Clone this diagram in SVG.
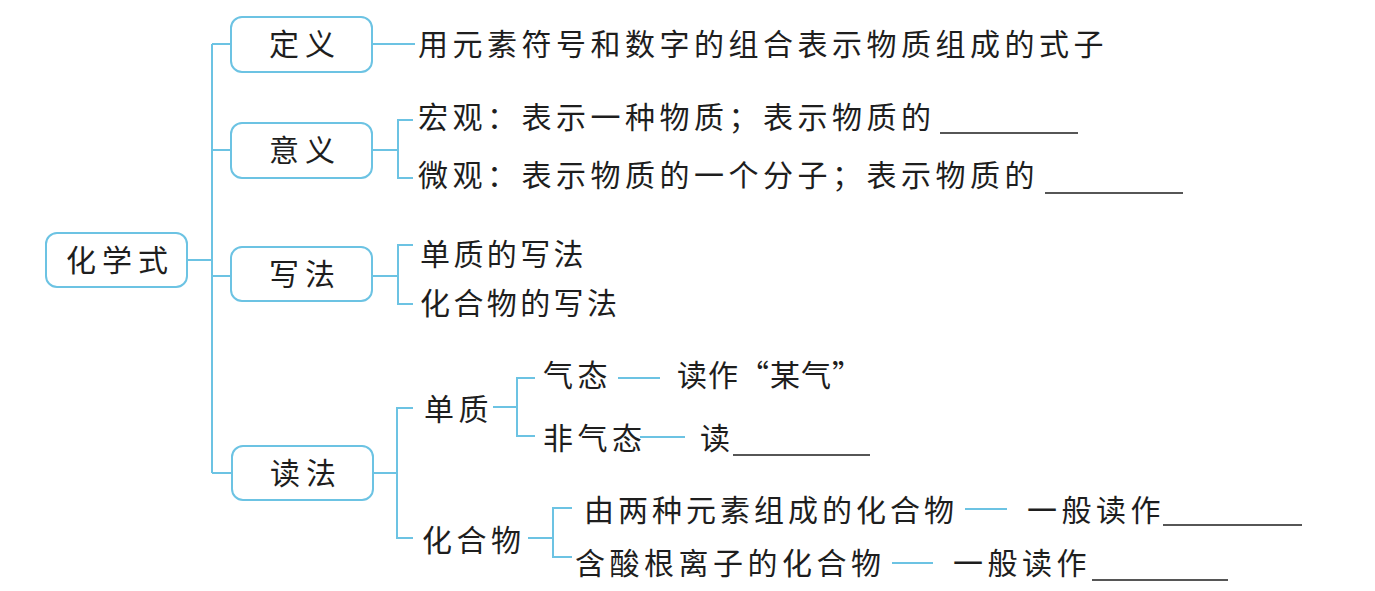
<svg xmlns="http://www.w3.org/2000/svg" width="1375" height="591" viewBox="0 0 1375 591">
<style>
.box{fill:#ffffff;stroke:#6cc3e3;stroke-width:2}
.c line,.c path{stroke:#6cc3e3;stroke-width:2;fill:none}
.t{font-family:"Noto Sans CJK SC","Noto Sans CJK TC",sans-serif;font-size:30px;fill:#1e1e1e;letter-spacing:4.5px}
.bt{font-family:"Noto Sans CJK SC","Noto Sans CJK TC",sans-serif;font-size:30px;fill:#1e1e1e;letter-spacing:6px;text-anchor:middle}
.u{stroke:#1e1e1e;stroke-width:1.6}
</style>
<rect width="1375" height="591" fill="#ffffff"/>
<g id="connectors" class="c">
<line x1="187" y1="260" x2="212" y2="260"/>
<line x1="212" y1="44" x2="212" y2="473"/>
<line x1="212" y1="44" x2="231" y2="44"/>
<line x1="212" y1="150" x2="231" y2="150"/>
<line x1="212" y1="276" x2="231" y2="276"/>
<line x1="212" y1="473" x2="232" y2="473"/>
<line x1="372" y1="44" x2="415" y2="44"/>
<line x1="372" y1="150" x2="398" y2="150"/>
<path d="M413 120H398V178H413"/>
<line x1="372" y1="276" x2="398" y2="276"/>
<path d="M413 245H398V304H413"/>
<line x1="373" y1="473" x2="397" y2="473"/>
<path d="M413 408H397V538H413"/>
<line x1="493" y1="407" x2="517" y2="407"/>
<path d="M535 378H517V436H535"/>
<line x1="618" y1="378" x2="660" y2="378"/>
<line x1="640" y1="437" x2="685" y2="437"/>
<line x1="528" y1="538" x2="553" y2="538"/>
<path d="M572 508H553V557H572"/>
<line x1="965" y1="509" x2="1007" y2="509"/>
<line x1="892" y1="563" x2="933" y2="563"/>
</g>
<g id="root">
<rect class="box" x="46" y="233" width="141" height="54" rx="11"/>
<text class="bt" x="120" y="271">化学式</text>
</g>
<g id="dingyi">
<rect class="box" x="231" y="17" width="141" height="55" rx="11"/>
<text class="bt" x="305" y="55">定义</text>
</g>
<g id="yiyi">
<rect class="box" x="231" y="123" width="141" height="55" rx="11"/>
<text class="bt" x="305" y="161">意义</text>
</g>
<g id="xiefa">
<rect class="box" x="231" y="247" width="141" height="54" rx="11"/>
<text class="bt" x="305" y="285">写法</text>
</g>
<g id="dufa">
<rect class="box" x="232" y="446" width="141" height="54" rx="11"/>
<text class="bt" x="306" y="484">读法</text>
</g>
<g id="def-text">
<text class="t" x="418" y="55">用元素符号和数字的组合表示物质组成的式子</text>
</g>
<g id="hongguan">
<text class="t" x="418" y="128">宏观：表示一种物质；表示物质的</text>
<line class="u" x1="940" y1="133" x2="1078" y2="133"/>
</g>
<g id="weiguan">
<text class="t" x="418" y="186">微观：表示物质的一个分子；表示物质的</text>
<line class="u" x1="1045" y1="193" x2="1183" y2="193"/>
</g>
<g id="danzhi-xiefa">
<text class="t" x="420" y="265" style="letter-spacing:3.4px">单质的写法</text>
</g>
<g id="huahewu-xiefa">
<text class="t" x="420" y="314" style="letter-spacing:3.4px">化合物的写法</text>
</g>
<g id="danzhi">
<text class="t" x="424" y="420">单质</text>
</g>
<g id="qitai">
<text class="t" x="543" y="386">气态</text>
<text class="t" x="677" y="386" style="letter-spacing:1px">读作“某气”</text>
</g>
<g id="feiqitai">
<text class="t" x="543" y="449">非气态</text>
<text class="t" x="700" y="449">读</text>
<line class="u" x1="733" y1="455" x2="870" y2="455"/>
</g>
<g id="huahewu">
<text class="t" x="422" y="551">化合物</text>
</g>
<g id="liangzhong">
<text class="t" x="584" y="521" style="letter-spacing:4px">由两种元素组成的化合物</text>
<text class="t" x="1027" y="521">一般读作</text>
<line class="u" x1="1163" y1="525" x2="1302" y2="525"/>
</g>
<g id="suangen">
<text class="t" x="575" y="574">含酸根离子的化合物</text>
<text class="t" x="953" y="574">一般读作</text>
<line class="u" x1="1092" y1="580" x2="1228" y2="580"/>
</g>
</svg>
